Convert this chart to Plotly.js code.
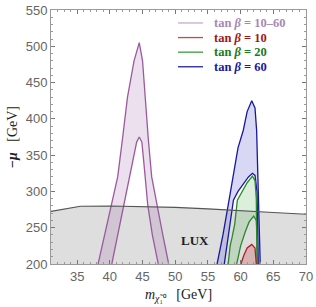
<!DOCTYPE html>
<html>
<head>
<meta charset="utf-8">
<script src="https://cdn.plot.ly/plotly-3.0.1.min.js"></script>
<style>html,body{margin:0;padding:0;background:#fff;}#chart{width:316px;height:307px;}</style>
</head>
<body>
<div id="chart"></div>
<script>
// LUX exclusion boundary
const luxX = [31, 33, 35.5, 40, 45, 50, 55, 60, 65, 70];
const luxY = [272.5, 276, 279.5, 280, 279.5, 278, 276, 273, 271, 268.5];

// tan beta = 10-60 band (purple)
const purpleOuterX = [38.2, 39.2, 40.3, 41.2, 41.9, 42.7, 43.7, 44.5, 45.0, 45.4, 45.9, 46.4, 47.2, 48.1, 49.0];
const purpleOuterY = [200, 240, 281, 320, 370, 430, 480, 505, 480, 430, 370, 320, 281, 240, 200];
const purpleInnerX = [40.3, 41.2, 42.2, 43.2, 44.1, 44.5, 44.9, 45.3, 45.8, 46.5, 47.4];
const purpleInnerY = [200, 240, 281, 330, 368, 375, 368, 330, 281, 240, 200];

// tan beta = 60 band (blue)
const blueOuterX = [56.4, 57.3, 58.1, 59.0, 59.6, 60.4, 61.0, 61.7, 62.2, 62.45, 62.6, 62.75, 62.9, 63.0];
const blueOuterY = [200, 240, 281, 329, 360, 384, 410, 425, 415, 384, 340, 290, 250, 200];
const blueInnerX = [57.5, 58.2, 58.9, 59.6, 60.4, 61.2, 61.8, 62.2, 62.5, 62.6, 62.7];
const blueInnerY = [200, 245, 288, 300, 310, 320, 325, 322, 300, 260, 200];

// tan beta = 20 band (green)
const greenOuterX = [58.1, 58.4, 58.7, 59.1, 59.5, 60.2, 61.0, 61.8, 62.2, 62.4, 62.45, 62.5];
const greenOuterY = [200, 225, 237, 255, 288, 300, 312, 321, 315, 290, 250, 200];
const greenInnerX = [59.4, 60.0, 60.7, 61.3, 62.0, 62.4, 62.55, 62.6];
const greenInnerY = [200, 225, 244, 258, 266, 260, 230, 200];

// tan beta = 10 region (red)
const redX = [60.05, 60.5, 61.0, 61.7, 62.2, 62.35, 62.4];
const redY = [200, 212, 222, 227, 222, 210, 200];

const legendNames = ['tan <i>β</i> = 10–60', 'tan <i>β</i> = 10', 'tan <i>β</i> = 20', 'tan <i>β</i> = 60'];
const legendLineColors = ['#c8a8d0', '#c84848', '#3c9c3c', '#2020a0'];
const legendTextColors = ['#a888b8', '#a01818', '#1a7a1a', '#1818a0'];

const rev = a => a.slice().reverse();
const band = (ox, oy, ix, iy) => ({x: ox.concat(rev(ix)), y: oy.concat(rev(iy))});

const traces = [];
// LUX fill
traces.push({x: [luxX[0]].concat(luxX, [luxX[luxX.length-1]]), y: [200].concat(luxY, [200]),
  mode: 'lines', fill: 'toself', fillcolor: 'rgba(200,200,200,0.6)', line: {width: 0}, showlegend: false, hoverinfo: 'skip'});

function addBand(ox, oy, ix, iy, fillc, linec) {
  const b = band(ox, oy, ix, iy);
  traces.push({x: b.x, y: b.y, mode: 'lines', fill: 'toself', fillcolor: fillc, line: {width: 0}, showlegend: false, hoverinfo: 'skip'});
  traces.push({x: ox, y: oy, mode: 'lines', line: {color: linec, width: 1.3}, showlegend: false, hoverinfo: 'skip'});
  traces.push({x: ix, y: iy, mode: 'lines', line: {color: linec, width: 1.3}, showlegend: false, hoverinfo: 'skip'});
}
addBand(purpleOuterX, purpleOuterY, purpleInnerX, purpleInnerY, 'rgba(160,100,170,0.2)', '#9a5aa0');
addBand(blueOuterX, blueOuterY, blueInnerX, blueInnerY, 'rgba(90,90,215,0.24)', '#1818a0');
addBand(greenOuterX, greenOuterY, greenInnerX, greenInnerY, 'rgba(90,180,90,0.22)', '#2a8a2a');
traces.push({x: redX, y: redY, mode: 'lines', fill: 'toself', fillcolor: 'rgba(200,80,80,0.3)', line: {color: '#b02020', width: 1.3}, showlegend: false, hoverinfo: 'skip'});

// LUX boundary line
traces.push({x: luxX, y: luxY, mode: 'lines', line: {color: '#555', width: 1.1}, showlegend: false, hoverinfo: 'skip'});

// legend (drawn as paper-positioned annotations + line samples)
const legTop = 0.949, legStep = 0.0575, legLineX0 = 0.498, legLineX1 = 0.596, legTextX = 0.63;
const shapes = [], annotations = [];
legendNames.forEach((n, i) => {
  const yy = legTop - i * legStep;
  shapes.push({type: 'line', xref: 'paper', yref: 'paper', x0: legLineX0, x1: legLineX1, y0: yy, y1: yy,
    line: {color: legendLineColors[i], width: 1.3}});
  annotations.push({xref: 'paper', yref: 'paper', x: legTextX, y: yy, xanchor: 'left', yanchor: 'middle',
    showarrow: false, text: '<b>' + n + '</b>',
    font: {family: 'Liberation Serif, serif', size: 12.5, color: legendTextColors[i]}});
});
annotations.push({x: 53, y: 232, xref: 'x', yref: 'y', text: '<b>LUX</b>', showarrow: false,
  font: {family: 'Liberation Serif, serif', size: 13, color: '#222'}});

const axisCommon = {
  showgrid: false, zeroline: false, showline: true, linecolor: '#999', linewidth: 1, mirror: 'ticks',
  ticks: 'inside', ticklen: 4, tickcolor: '#777', tickwidth: 1,
  tickfont: {family: 'Liberation Sans, Arial, sans-serif', size: 13, color: '#666'},
  minor: {ticks: 'inside', ticklen: 2, tickcolor: '#999', showgrid: false}
};

const layout = {
  width: 316, height: 307,
  margin: {l: 51, r: 10, t: 10, b: 43},
  paper_bgcolor: '#fff', plot_bgcolor: '#fff',
  showlegend: false,
  shapes: shapes,
  annotations: annotations,
  xaxis: Object.assign({}, axisCommon, {range: [31, 70], tickvals: [35, 40, 45, 50, 55, 60, 65, 70],
    minor: Object.assign({}, axisCommon.minor, {dtick: 1}),
    title: {text: '<i>m</i><sub><i>χ̃</i>₁⁰</sub>   [GeV]', font: {family: 'Liberation Serif, serif', size: 14, color: '#222'}, standoff: 6}}),
  yaxis: Object.assign({}, axisCommon, {range: [200, 550], dtick: 50,
    minor: Object.assign({}, axisCommon.minor, {dtick: 10}),
    title: {text: '<b>−<i>μ</i></b>   [GeV]', font: {family: 'Liberation Serif, serif', size: 14, color: '#222'}, standoff: 4}})
};

Plotly.newPlot('chart', traces, layout, {staticPlot: true, displayModeBar: false});
</script>
</body>
</html>
